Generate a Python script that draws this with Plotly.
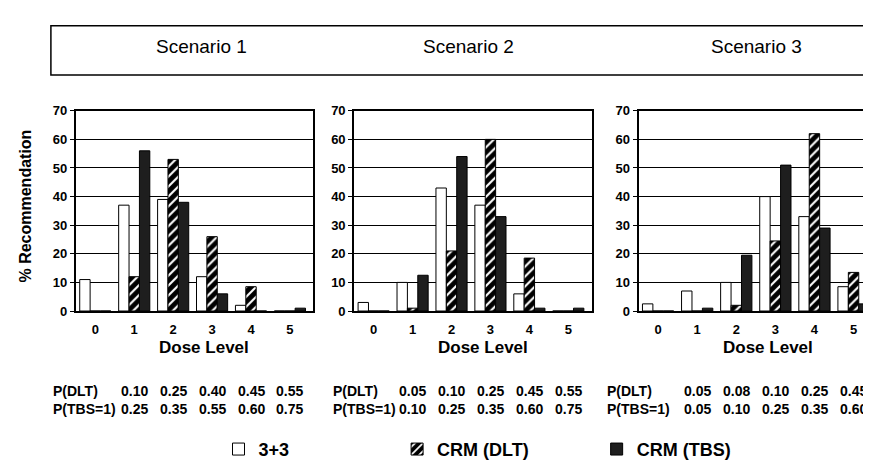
import plotly.graph_objects as go

doses = [0, 1, 2, 3, 4, 5]
scenarios = ["Scenario 1", "Scenario 2", "Scenario 3"]
series_names = ["3+3", "CRM (DLT)", "CRM (TBS)"]

s1_33 = [11, 37, 39, 12, 2, 0]
s1_dlt = [0, 12, 53, 26, 8.5, 0]
s1_tbs = [0, 56, 38, 6, 0, 1]

s2_33 = [3, 10, 43, 37, 6, 0]
s2_dlt = [0, 1, 21, 60, 18.5, 0]
s2_tbs = [0, 12.5, 54, 33, 1, 1]

s3_33 = [2.5, 7, 10, 40, 33, 8.5]
s3_dlt = [0, 0, 2, 24.5, 62, 13.5]
s3_tbs = [0, 1, 19.5, 51, 29, 2.5]

p_dlt = [["0.10", "0.25", "0.40", "0.45", "0.55"],
         ["0.05", "0.10", "0.25", "0.45", "0.55"],
         ["0.05", "0.08", "0.10", "0.25", "0.45"]]
p_tbs = [["0.25", "0.35", "0.55", "0.60", "0.75"],
         ["0.10", "0.25", "0.35", "0.60", "0.75"],
         ["0.05", "0.10", "0.25", "0.35", "0.60"]]
table_doses = [1, 2, 3, 4, 5]

data = [(s1_33, s1_dlt, s1_tbs), (s2_33, s2_dlt, s2_tbs), (s3_33, s3_dlt, s3_tbs)]

W, H = 871, 460
FONT = "Liberation Sans, Arial, sans-serif"

def px(x):
    return x / W

def py(y):
    return (H - y) / H

x_domains = [[px(68), px(306)], [px(347), px(585)], [px(632), 1.0]]
y_domain = [py(306), py(99)]

fig = go.Figure()

styles = [
    dict(color="white", line=dict(color="black", width=1)),
    dict(color="black", line=dict(color="black", width=1),
         pattern=dict(shape="/", fillmode="replace", bgcolor="black", fgcolor="white", size=7, solidity=0.3)),
    dict(color="#1e1e1e", line=dict(color="black", width=1)),
]
legends = ["legend", "legend2", "legend3"]

for i, vals in enumerate(data):
    ax = "" if i == 0 else str(i + 1)
    for j, v in enumerate(vals):
        fig.add_trace(go.Bar(
            x=doses, y=v, name=series_names[j], marker=styles[j],
            xaxis="x" + ax, yaxis="y" + ax,
            showlegend=(i == 0), legend=legends[j],
        ))

layout = dict(
    width=W, height=H, margin=dict(l=0, r=0, t=0, b=0),
    paper_bgcolor="white", plot_bgcolor="white",
    barmode="group", bargap=0.2, bargroupgap=0,
    font=dict(family=FONT, color="black"),
)

for i in range(3):
    ax = "" if i == 0 else str(i + 1)
    layout["xaxis" + ax] = dict(
        domain=x_domains[i], anchor="y" + ax, range=[-0.5, 5.6],
        tickmode="array", tickvals=doses, ticktext=[str(d) for d in doses],
        showline=True, linecolor="black", linewidth=2, mirror=True,
        showgrid=False, zeroline=False, ticks="",
        tickfont=dict(size=13, family=FONT, weight="bold"), ticklabelstandoff=5,
        fixedrange=True,
    )
    layout["yaxis" + ax] = dict(
        domain=y_domain, anchor="x" + ax, range=[0, 70],
        tickmode="linear", tick0=0, dtick=10,
        showline=True, linecolor="black", linewidth=2, mirror=True,
        showgrid=True, gridcolor="black", gridwidth=1, zeroline=False,
        ticks="outside", ticklen=4, tickcolor="black",
        tickfont=dict(size=13, family=FONT, weight="bold"),
        fixedrange=True,
    )

leg_common = dict(orientation="h", yanchor="middle", xanchor="left",
                  font=dict(size=18, family=FONT, weight="bold"),
                  bgcolor="rgba(0,0,0,0)", itemclick=False, itemdoubleclick=False)
layout["legend"] = dict(leg_common, x=px(211), y=py(449))
layout["legend2"] = dict(leg_common, x=px(390), y=py(449))
layout["legend3"] = dict(leg_common, x=px(590), y=py(449))

fig.update_layout(**layout)

# Title box with scenario labels
fig.add_shape(type="rect", xref="paper", yref="paper",
              x0=px(43), x1=px(868), y0=py(62), y1=py(11),
              line=dict(color="black", width=1.5), fillcolor="rgba(0,0,0,0)")
title_x = [194, 462, 750]
for i, s in enumerate(scenarios):
    fig.add_annotation(text=s, xref="paper", yref="paper", x=px(title_x[i]), y=py(33),
                       showarrow=False, xanchor="center", yanchor="middle",
                       font=dict(size=19, family=FONT))

# Y axis title
fig.add_annotation(text="% Recommendation", xref="paper", yref="paper",
                   x=px(18), y=py(197), textangle=-90, showarrow=False,
                   xanchor="center", yanchor="middle",
                   font=dict(size=16, family=FONT, weight="bold"))

# Dose Level labels and probability tables
label_x = [43, 324, 598]
for i in range(3):
    ax = "" if i == 0 else str(i + 1)
    fig.add_annotation(text="Dose Level", xref="x" + ax, yref="paper", x=2.8, y=py(344),
                       showarrow=False, xanchor="center", yanchor="middle",
                       font=dict(size=17, family=FONT, weight="bold"))
    fig.add_annotation(text="P(DLT)", xref="paper", yref="paper", x=px(label_x[i]), y=py(389),
                       showarrow=False, xanchor="left", yanchor="middle",
                       font=dict(size=14, family=FONT, weight="bold"))
    fig.add_annotation(text="P(TBS=1)", xref="paper", yref="paper", x=px(label_x[i]), y=py(407),
                       showarrow=False, xanchor="left", yanchor="middle",
                       font=dict(size=14, family=FONT, weight="bold"))
    for k, d in enumerate(table_doses):
        fig.add_annotation(text=p_dlt[i][k], xref="x" + ax, yref="paper", x=d, y=py(389),
                           showarrow=False, xanchor="center", yanchor="middle",
                           font=dict(size=14, family=FONT, weight="bold"))
        fig.add_annotation(text=p_tbs[i][k], xref="x" + ax, yref="paper", x=d, y=py(407),
                           showarrow=False, xanchor="center", yanchor="middle",
                           font=dict(size=14, family=FONT, weight="bold"))

fig.write_html("out.html")
